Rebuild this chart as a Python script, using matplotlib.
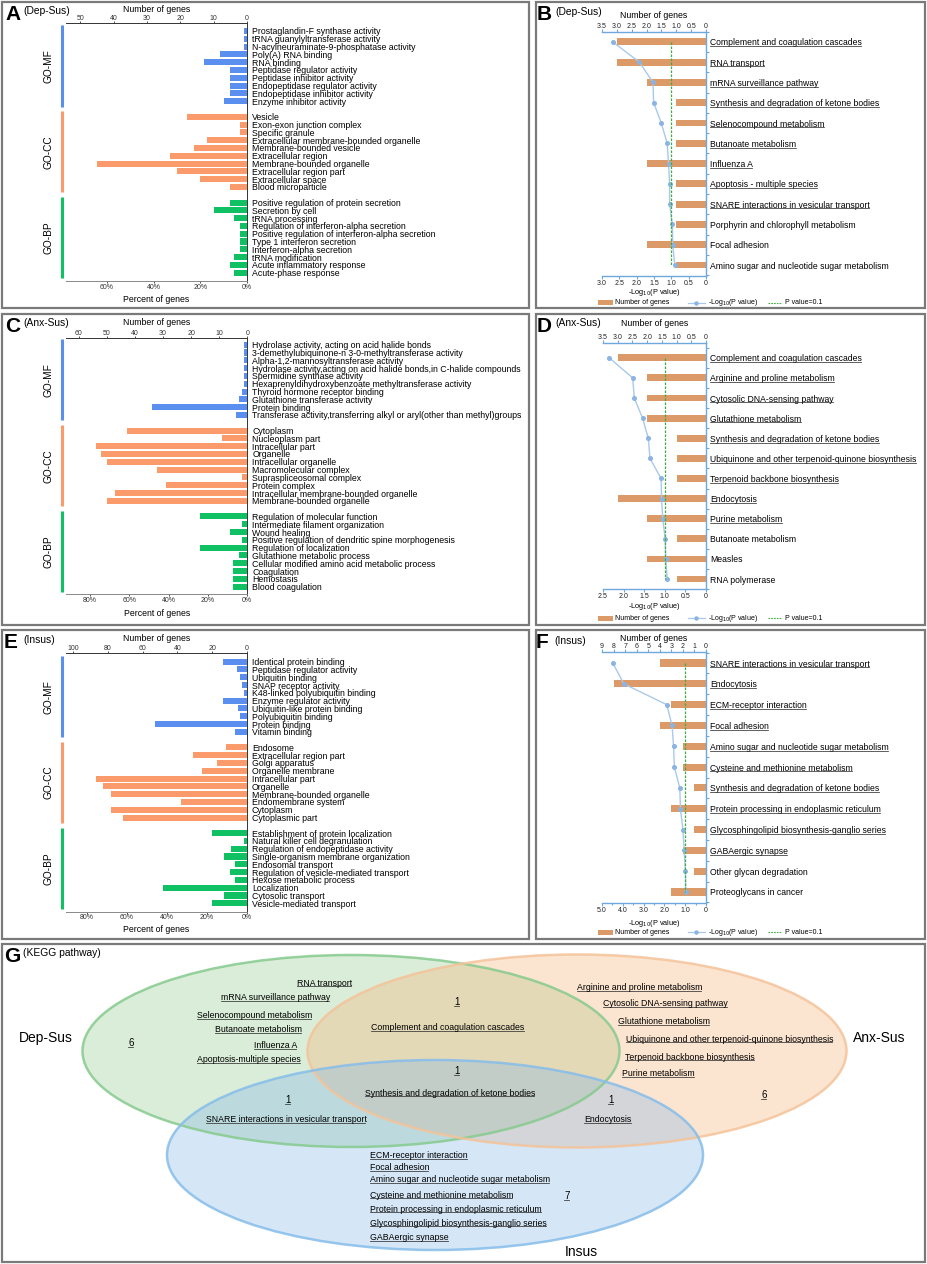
import numpy as np
import matplotlib
matplotlib.use("Agg")
import matplotlib.pyplot as plt
from matplotlib.patches import Ellipse, Rectangle
from matplotlib.lines import Line2D
from matplotlib.transforms import blended_transform_factory

plt.rcParams['font.family'] = ['Liberation Sans', 'DejaVu Sans']

# ---------------- Panel A: Dep-Sus GO ----------------
a_mf_terms = ["Prostaglandin-F synthase activity", "tRNA guanylyltransferase activity",
              "N-acylneuraminate-9-phosphatase activity", "Poly(A) RNA binding", "RNA binding",
              "Peptidase regulator activity", "Peptidase inhibitor activity",
              "Endopeptidase regulator activity", "Endopeptidase inhibitor activity",
              "Enzyme inhibitor activity"]
a_mf_genes = [1, 1, 1, 8, 13, 5, 5, 5, 5, 7]
a_cc_terms = ["Vesicle", "Exon-exon junction complex", "Specific granule",
              "Extracellular membrane-bounded organelle", "Membrane-bounded vesicle",
              "Extracellular region", "Membrane-bounded organelle", "Extracellular region part",
              "Extracellular space", "Blood microparticle"]
a_cc_genes = [18, 2, 2, 12, 16, 23, 45, 21, 14, 5]
a_bp_terms = ["Positive regulation of protein secretion", "Secretion by cell", "tRNA processing",
              "Regulation of interferon-alpha secretion",
              "Positive regulation of interferon-alpha secretion", "Type 1 interferon secretion",
              "Interferon-alpha secretion", "tRNA modification", "Acute inflammatory response",
              "Acute-phase response"]
a_bp_genes = [5, 10, 4, 2, 2, 2, 2, 4, 5, 4]
a_total_genes = 70
a_gene_max = 54.3
a_gene_ticks = [50, 40, 30, 20, 10, 0]
a_pct_ticks = [60, 40, 20, 0]

# ---------------- Panel C: Anx-Sus GO ----------------
c_mf_terms = ["Hydrolase activity, acting on acid halide bonds",
              "3-demethylubiquinone-n 3-0-methyltransferase activity",
              "Alpha-1,2-mannosyltransferase activity",
              "Hydrolase activity,acting on acid halide bonds,in C-halide compounds",
              "Spermidine synthase activity",
              "Hexaprenyldihydroxybenzoate methyltransferase activity",
              "Thyroid hormone receptor binding", "Glutathione transferase activity",
              "Protein binding",
              "Transferase activity,transferring alkyl or aryl(other than methyl)groups"]
c_mf_genes = [1, 1, 1, 1, 1, 1, 2, 3, 34, 4]
c_cc_terms = ["Cytoplasm", "Nucleoplasm part", "Intracellular part", "Organelle",
              "Intracellular organelle", "Macromolecular complex", "Supraspliceosomal complex",
              "Protein complex", "Intracellular membrane-bounded organelle",
              "Membrane-bounded organelle"]
c_cc_genes = [43, 9, 54, 52, 50, 32, 2, 29, 47, 50]
c_bp_terms = ["Regulation of molecular function", "Intermediate filament organization",
              "Wound healing", "Positive regulation of dendritic spine morphogenesis",
              "Regulation of localization", "Glutathione metabolic process",
              "Cellular modified amino acid metabolic process", "Coagulation", "Hemostasis",
              "Blood coagulation"]
c_bp_genes = [17, 2, 6, 2, 17, 3, 5, 5, 5, 5]
c_total_genes = 70
c_gene_max = 64.6
c_gene_ticks = [60, 50, 40, 30, 20, 10, 0]
c_pct_ticks = [80, 60, 40, 20, 0]

# ---------------- Panel E: Insus GO ----------------
e_mf_terms = ["Identical protein binding", "Peptidase regulator activity", "Ubiquitin binding",
              "SNAP receptor activity", "K48-linked polyubiquitin binding",
              "Enzyme regulator activity", "Ubiquitin-like protein binding",
              "Polyubiquitin binding", "Protein binding", "Vitamin binding"]
e_mf_genes = [14, 6, 4, 3, 2, 14, 5, 4, 53, 7]
e_cc_terms = ["Endosome", "Extracellular region part", "Golgi apparatus", "Organelle membrane",
              "Intracellular part", "Organelle", "Membrane-bounded organelle",
              "Endomembrane system", "Cytoplasm", "Cytoplasmic part"]
e_cc_genes = [12, 31, 17, 26, 87, 83, 78, 38, 78, 71]
e_bp_terms = ["Establishment of protein localization", "Natural killer cell degranulation",
              "Regulation of endopeptidase activity", "Single-organism membrane organization",
              "Endosomal transport", "Regulation of vesicle-mediated transport",
              "Hexose metabolic process", "Localization", "Cytosolic transport",
              "Vesicle-mediated transport"]
e_bp_genes = [20, 2, 9, 13, 7, 10, 7, 48, 13, 20]
e_total_genes = 115
e_gene_max = 104
e_gene_ticks = [100, 80, 60, 40, 20, 0]
e_pct_ticks = [80, 60, 40, 20, 0]

# ---------------- Panel B: Dep-Sus KEGG ----------------
b_terms = ["Complement and coagulation cascades", "RNA transport", "mRNA surveillance pathway",
           "Synthesis and degradation of ketone bodies", "Selenocompound metabolism",
           "Butanoate metabolism", "Influenza A", "Apoptosis - multiple species",
           "SNARE interactions in vesicular transport", "Porphyrin and chlorophyll metabolism",
           "Focal adhesion", "Amino sugar and nucleotide sugar metabolism"]
b_genes = [3, 3, 2, 1, 1, 1, 2, 1, 1, 1, 2, 1]
b_logp = [2.69, 1.92, 1.53, 1.51, 1.29, 1.12, 1.08, 1.05, 1.05, 0.97, 0.96, 0.90]
b_gene_ticks = [3.5, 3.0, 2.5, 2.0, 1.5, 1.0, 0.5, 0]
b_logp_ticks = [3.0, 2.5, 2.0, 1.5, 1.0, 0.5, 0]

# ---------------- Panel D: Anx-Sus KEGG ----------------
d_terms = ["Complement and coagulation cascades", "Arginine and proline metabolism",
           "Cytosolic DNA-sensing pathway", "Glutathione metabolism",
           "Synthesis and degradation of ketone bodies",
           "Ubiquinone and other terpenoid-quinone biosynthesis",
           "Terpenoid backbone biosynthesis", "Endocytosis", "Purine metabolism",
           "Butanoate metabolism", "Measles", "RNA polymerase"]
d_genes = [3, 2, 2, 2, 1, 1, 1, 3, 2, 1, 2, 1]
d_logp = [2.35, 1.78, 1.74, 1.54, 1.40, 1.36, 1.09, 1.08, 1.05, 0.99, 0.98, 0.94]
d_gene_ticks = [3.5, 3.0, 2.5, 2.0, 1.5, 1.0, 0.5, 0]
d_logp_ticks = [2.5, 2.0, 1.5, 1.0, 0.5, 0]

# ---------------- Panel F: Insus KEGG ----------------
f_terms = ["SNARE interactions in vesicular transport", "Endocytosis",
           "ECM-receptor interaction", "Focal adhesion",
           "Amino sugar and nucleotide sugar metabolism", "Cysteine and methionine metabolism",
           "Synthesis and degradation of ketone bodies",
           "Protein processing in endoplasmic reticulum",
           "Glycosphingolipid biosynthesis-ganglio series", "GABAergic synapse",
           "Other glycan degradation", "Proteoglycans in cancer"]
f_genes = [4, 8, 3, 4, 2, 2, 1, 3, 1, 2, 1, 3]
f_logp = [4.48, 3.95, 1.89, 1.63, 1.56, 1.52, 1.26, 1.23, 1.11, 1.05, 0.99, 0.97]
f_gene_ticks = [9, 8, 7, 6, 5, 4, 3, 2, 1, 0]
f_logp_ticks = [5.0, 4.0, 3.0, 2.0, 1.0, 0]

p_threshold_logp = 1.0   # P value = 0.1

# ---------------- Panel G: Venn of KEGG pathways ----------------
venn_dep_only = ["RNA transport", "mRNA surveillance pathway", "Selenocompound metabolism",
                 "Butanoate metabolism", "Influenza A", "Apoptosis-multiple species"]
venn_anx_only = ["Arginine and proline metabolism", "Cytosolic DNA-sensing pathway",
                 "Glutathione metabolism", "Ubiquinone and other terpenoid-quinone biosynthesis",
                 "Terpenoid backbone biosynthesis", "Purine metabolism"]
venn_ins_only = ["ECM-receptor interaction", "Focal adhesion",
                 "Amino sugar and nucleotide sugar metabolism",
                 "Cysteine and methionine metabolism",
                 "Protein processing in endoplasmic reticulum",
                 "Glycosphingolipid biosynthesis-ganglio series", "GABAergic synapse"]
venn_dep_anx = ["Complement and coagulation cascades"]
venn_all = ["Synthesis and degradation of ketone bodies"]
venn_dep_ins = ["SNARE interactions in vesicular transport"]
venn_anx_ins = ["Endocytosis"]

# ======================================================================
W, H = 927, 1264
fig = plt.figure(figsize=(W / 100, H / 100), dpi=100)
fig.patch.set_facecolor('white')

MF_C, CC_C, BP_C = '#5B8FEF', '#FB9A6A', '#10C163'
AX_C = '#333333'
K_BLUE = '#6FA8DC'
BAR_C = '#DC9A69'
LINE_C = '#A9C9EC'
MARK_C = '#8BB4E2'
GREEN_D = '#3BAE3F'

underline_items = []  # text artists to underline


def px_axes(x0, y0, x1, y1):
    ax = fig.add_axes([x0 / W, 1 - y1 / H, (x1 - x0) / W, (y1 - y0) / H])
    ax.set_facecolor('none')
    return ax


def go_panel(box, pads, groups, total, gmax, gticks, pticks, lp_top, lp_bot):
    x0, y0, x1, y1 = box
    ax = px_axes(x0, y0, x1, y1)
    ax2 = ax.twiny()
    pos_all, lab_all = [], []
    start = 0
    spans = []
    for terms, genes, color, name in groups:
        p = np.arange(len(terms)) + start
        ax.barh(p, genes, height=0.78, color=color, linewidth=0)
        pos_all += list(p)
        lab_all += terms
        spans.append((p[0], p[-1], color, name))
        start += len(terms) + 1
    n_last = pos_all[-1]
    ax.set_ylim(n_last + pads[1], -pads[0])
    ax.set_xlim(gmax, 0)
    ax2.set_xlim(gmax * 100.0 / total, 0)
    ax.xaxis.tick_top()
    ax.xaxis.set_label_position('top')
    ax.set_xticks(gticks)
    ax.set_xticklabels([str(t) for t in gticks])
    ax.tick_params(axis='x', labelsize=5, length=1.5, width=0.6, pad=-1.0, colors=AX_C)
    ax.set_xlabel('Number of genes', fontsize=6.3, labelpad=lp_top)
    ax2.xaxis.tick_bottom()
    ax2.xaxis.set_label_position('bottom')
    ax2.set_xticks(pticks)
    ax2.set_xticklabels([f'{t}%' for t in pticks])
    ax2.tick_params(axis='x', labelsize=5, length=1.5, width=0.6, pad=0.4, colors=AX_C)
    ax2.set_xlabel('Percent of genes', fontsize=6.3, labelpad=lp_bot)
    for s in ['left', 'bottom']:
        ax.spines[s].set_visible(False)
    for s in ['top', 'left', 'right']:
        ax2.spines[s].set_visible(False)
    for s in ['top', 'right']:
        ax.spines[s].set_color(AX_C)
        ax.spines[s].set_linewidth(0.7)
    ax2.spines['bottom'].set_color('#888888')
    ax2.spines['bottom'].set_linewidth(0.7)
    ax.yaxis.tick_right()
    ax.set_yticks(pos_all)
    ax.set_yticklabels(lab_all)
    ax.tick_params(axis='y', length=0, pad=3.5, labelsize=6.3)
    wpx = x1 - x0
    tr = blended_transform_factory(ax.transAxes, ax.transData)
    for a, b, color, name in spans:
        ax.plot([-4 / wpx, -4 / wpx], [a - 0.72, b + 0.7], color=color, lw=2.2,
                transform=tr, clip_on=False, solid_capstyle='butt')
        ax.text(-18 / wpx, (a + b) / 2, name, rotation=90, ha='center', va='center',
                fontsize=7.3, transform=tr)
    return ax


def kegg_panel(box, pads, terms, genes, logp, gmax, gticks, pmax, pticks, pminor,
               lp_top, lp_bot):
    x0, y0, x1, y1 = box
    ax = px_axes(x0, y0, x1, y1)
    ax2 = ax.twiny()
    pos = np.arange(len(terms))
    ax.barh(pos, genes, height=0.34, color=BAR_C, linewidth=0)
    ax.set_ylim(pos[-1] + pads[1], -pads[0])
    ax.set_xlim(gmax, 0)
    ax2.set_xlim(pmax, 0)
    ax2.plot(logp, pos, color=LINE_C, lw=1.0, marker='o', ms=2.6, mfc=MARK_C,
             mec=MARK_C, zorder=3)
    ax2.plot([p_threshold_logp, p_threshold_logp], [pos[0], pos[-1]], color=GREEN_D,
             lw=0.9, dashes=(2, 1.2), zorder=4)
    ax.xaxis.tick_top()
    ax.xaxis.set_label_position('top')
    ax.set_xticks(gticks)
    if gmax > 5:
        ax.set_xticklabels([f'{t:g}' for t in gticks])
    else:
        ax.set_xticklabels(['0' if t == 0 else f'{t:.1f}' for t in gticks])
    ax.tick_params(axis='x', labelsize=5, length=2, width=0.8, pad=-0.6, colors=K_BLUE,
                   labelcolor='#222222')
    ax.set_xlabel('Number of genes', fontsize=6.3, labelpad=lp_top)
    ax2.xaxis.tick_bottom()
    ax2.xaxis.set_label_position('bottom')
    ax2.set_xticks(pticks)
    ax2.set_xticklabels(['0' if t == 0 else f'{t:.1f}' for t in pticks])
    if pminor is not None:
        ax2.set_xticks(pminor, minor=True)
    ax2.tick_params(axis='x', which='both', labelsize=5, length=2, width=0.8, pad=0.6,
                    colors=K_BLUE, labelcolor='#222222')
    ax2.tick_params(axis='x', which='minor', length=1.3)
    ax2.set_xlabel(r'-Log$_{10}$(P value)', fontsize=5.3, labelpad=lp_bot)
    for s in ['left', 'bottom']:
        ax.spines[s].set_visible(False)
    for s in ['top', 'left', 'right']:
        ax2.spines[s].set_visible(False)
    for s in ['top', 'right']:
        ax.spines[s].set_color(K_BLUE)
        ax.spines[s].set_linewidth(1.0)
    ax2.spines['bottom'].set_color(K_BLUE)
    ax2.spines['bottom'].set_linewidth(1.0)
    ax.yaxis.tick_right()
    ax.set_yticks(pos)
    ax.set_yticklabels(terms)
    ax.set_yticks(np.arange(len(terms) + 1) - 0.5, minor=True)
    ax.tick_params(axis='y', which='major', length=0, pad=3.2, labelsize=6.2)
    ax.tick_params(axis='y', which='minor', length=2.5, width=0.8, color=K_BLUE)
    for lbl, v in zip(ax.get_yticklabels(), logp):
        if v > p_threshold_logp:
            underline_items.append(lbl)
    return ax


go_panel((66, 22.7, 247, 281), (1.06, 1.06),
         [(a_mf_terms, a_mf_genes, MF_C, 'GO-MF'), (a_cc_terms, a_cc_genes, CC_C, 'GO-CC'),
          (a_bp_terms, a_bp_genes, BP_C, 'GO-BP')],
         a_total_genes, a_gene_max, a_gene_ticks, a_pct_ticks, 2.0, 3.0)
go_panel((66, 337.7, 247.3, 594), (0.9, 0.94),
         [(c_mf_terms, c_mf_genes, MF_C, 'GO-MF'), (c_cc_terms, c_cc_genes, CC_C, 'GO-CC'),
          (c_bp_terms, c_bp_genes, BP_C, 'GO-BP')],
         c_total_genes, c_gene_max, c_gene_ticks, c_pct_ticks, 3.4, 4.2)
go_panel((66, 652.7, 247, 911.7), (1.15, 1.08),
         [(e_mf_terms, e_mf_genes, MF_C, 'GO-MF'), (e_cc_terms, e_cc_genes, CC_C, 'GO-CC'),
          (e_bp_terms, e_bp_genes, BP_C, 'GO-BP')],
         e_total_genes, e_gene_max, e_gene_ticks, e_pct_ticks, 2.7, 2.8)

kegg_panel((602, 31.7, 706, 276), (0.49, 0.54), b_terms, b_genes, b_logp,
           3.5, b_gene_ticks, 3.0, b_logp_ticks, None, 3.5, 0.3)
kegg_panel((603, 343.3, 706, 589.3), (0.72, 0.51), d_terms, d_genes, d_logp,
           3.5, d_gene_ticks, 2.5, d_logp_ticks, None, 6.0, 1.0)
kegg_panel((602, 652, 706, 903), (0.53, 0.53), f_terms, f_genes, f_logp,
           9, f_gene_ticks, 5.0, f_logp_ticks, [4.5, 3.5, 2.5, 1.5, 0.5], 1.6, 3.3)

# ---------------- overlay for frames, letters, legends, Venn ----------------
ov = fig.add_axes([0, 0, 1, 1], zorder=10)
ov.set_xlim(0, W)
ov.set_ylim(H, 0)
ov.axis('off')
ov.patch.set_visible(False)

frames = [(2, 2, 529, 308), (536, 2, 925, 308), (2, 314, 529, 625), (536, 314, 925, 625),
          (2, 630, 529, 939), (536, 630, 925, 939), (2, 944, 925, 1262)]
for x0, y0, x1, y1 in frames:
    ov.add_patch(Rectangle((x0, y0), x1 - x0, y1 - y0, fill=False, ec='#7a7a7a', lw=1.6))

letters = [('A', 5, 14, '(Dep-Sus)', 23, 11), ('B', 537, 15, '(Dep-Sus)', 555, 12),
           ('C', 5, 327, '(Anx-Sus)', 23, 323), ('D', 537, 327, '(Anx-Sus)', 555, 323),
           ('E', 4, 642, '(Insus)', 23, 640), ('F', 536, 643, '(Insus)', 554, 641),
           ('G', 4, 956, '(KEGG pathway)', 23, 953)]
for L, lx, ly, sub, sx, sy in letters:
    ov.text(lx, ly, L, fontsize=15, fontweight='bold', ha='left', va='center')
    ov.text(sx, sy, sub, fontsize=7.4, ha='left', va='center')

# legends under KEGG panels
for ly in (302.5, 618, 932):
    ov.add_patch(Rectangle((598, ly - 2.5), 15, 5, color=BAR_C, lw=0))
    ov.text(615, ly, 'Number of genes', fontsize=5, va='center', ha='left')
    ov.add_line(Line2D([688, 705], [ly, ly], color=LINE_C, lw=0.9))
    ov.add_line(Line2D([696.5], [ly], color=MARK_C, marker='o', ms=2.2, lw=0))
    ov.text(708, ly, r'-Log$_{10}$(P value)', fontsize=5, va='center', ha='left')
    ov.add_line(Line2D([768, 781], [ly, ly], color=GREEN_D, lw=0.8, dashes=(1.5, 1)))
    ov.text(785, ly, 'P value=0.1', fontsize=5, va='center', ha='left')

# Venn ellipses
ellipses = [((351, 1051), 537, 192, '#92CE90', '#86CA8E'),
            ((577, 1051), 539, 193, '#F9B579', '#F4C39A'),
            ((435, 1155), 536, 190, '#87B8E8', '#86BDEA')]
for (cx, cy), w, h, fc, ec in ellipses:
    ov.add_patch(Ellipse((cx, cy), w, h, fc=fc, ec='none', alpha=0.35))
for (cx, cy), w, h, fc, ec in ellipses:
    ov.add_patch(Ellipse((cx, cy), w, h, fc='none', ec=ec, lw=1.8, alpha=0.85))

VFS = 6.3


def vtext(x, y, s, ha='left', fs=VFS):
    t = ov.text(x, y, s, fontsize=fs, ha=ha, va='center')
    underline_items.append(t)
    return t


dep_xy = [(297, 983), (221, 998), (197, 1016), (215, 1030), (254, 1046), (197, 1060)]
for s, (x, y) in zip(venn_dep_only, dep_xy):
    vtext(x, y, s)
anx_xy = [(577, 988), (603, 1004), (618, 1022), (626, 1039), (625, 1057), (622, 1074)]
for s, (x, y) in zip(venn_anx_only, anx_xy):
    vtext(x, y, s)
ins_y = [1156, 1168, 1180, 1195, 1209, 1223, 1238]
for s, y in zip(venn_ins_only, ins_y):
    vtext(370, y, s)

vtext(131, 1043, str(len(venn_dep_only)), ha='center', fs=7)
vtext(764, 1095, str(len(venn_anx_only)), ha='center', fs=7)
vtext(567, 1196, str(len(venn_ins_only)), ha='center', fs=7)
vtext(457, 1002, str(len(venn_dep_anx)), ha='center', fs=7)
vtext(448, 1028, venn_dep_anx[0], ha='center')
vtext(457, 1071, str(len(venn_all)), ha='center', fs=7)
vtext(450, 1093, venn_all[0], ha='center')
vtext(288, 1100, str(len(venn_dep_ins)), ha='center', fs=7)
vtext(286, 1120, venn_dep_ins[0], ha='center')
vtext(611, 1100, str(len(venn_anx_ins)), ha='center', fs=7)
vtext(608, 1120, venn_anx_ins[0], ha='center')

ov.text(46, 1038, 'Dep-Sus', fontsize=10, ha='center', va='center')
ov.text(879, 1038, 'Anx-Sus', fontsize=10, ha='center', va='center')
ov.text(581, 1252, 'Insus', fontsize=10, ha='center', va='center')

# underline texts
fig.canvas.draw()
r = fig.canvas.get_renderer()
for t in underline_items:
    bb = t.get_window_extent(renderer=r)
    yb = H - bb.y0 - 1.2
    ov.add_line(Line2D([bb.x0, bb.x1 - 1], [yb, yb], color='#333333', lw=0.55))

fig.savefig('out.png', dpi=100, facecolor='white')
